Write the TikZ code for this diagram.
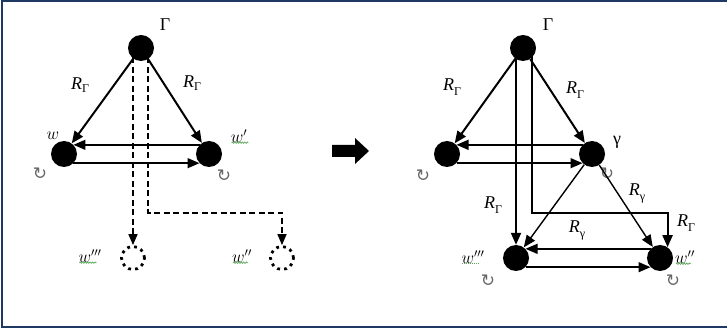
\documentclass[tikz,border=0pt]{standalone}
\usepackage{fontspec}
\setmainfont{Liberation Serif}
\newfontfamily\symfont{DejaVu Sans}
\usetikzlibrary{arrows.meta,calc,decorations.pathmorphing}
\definecolor{frameblue}{RGB}{31,56,100}
\definecolor{spellgreen}{RGB}{90,170,90}
\newcommand\RelG{\textit{R}\raisebox{-0.3ex}{\fontsize{12}{14}\selectfont Γ}}
\newcommand\RelGlow{\textit{R}\raisebox{-0.55ex}{\fontsize{12}{14}\selectfont Γ}}
\newcommand\Relg{\textit{R}\raisebox{-0.6ex}{\fontsize{12}{14}\selectfont γ}}
\tikzset{
  world/.style={circle,fill=black,minimum size=26pt,inner sep=0pt},
  ghost/.style={circle,draw=black,line width=2.8pt,dash pattern=on 2.8pt off 4.2pt,
                minimum size=23pt,inner sep=0pt},
  rel/.style={line width=2pt,-{Triangle[length=12pt,width=10pt]}},
  acc/.style={line width=1.4pt,-{Triangle[length=12pt,width=10pt]}},
  dashrel/.style={line width=1.6pt,dash pattern=on 6pt off 3.5pt,
                  -{Triangle[length=11pt,width=9pt]}},
  lbl/.style={font=\fontsize{18}{20}\selectfont,inner sep=1pt},
  loopmark/.style={font=\symfont\fontsize{17}{19}\selectfont,text=black!60,inner sep=0pt},
  squiggle/.style={spellgreen,line width=0.7pt,decorate,
                   decoration={snake,amplitude=0.7pt,segment length=2.5pt}},
}
\begin{document}
\begin{tikzpicture}[x=1pt,y=-1pt]
\useasboundingbox (0,0) rectangle (727,328);
% frame
\draw[frameblue,line width=2pt] (735,1.5) -- (1.5,1.5) -- (1.5,326.5) -- (735,326.5);

% ---------- left model ----------
\node[world] (G1) at (141,48) {};
\node[world] (W1) at (64,154) {};
\node[world] (W1p) at (209,154) {};
\node[ghost] (W3) at (133,258) {};
\node[ghost] (W2) at (282,258) {};

\node[lbl] (lG1) at (165,25) {Γ};
\node[lbl] (lW1) at (53,136) {$w$};
\node[lbl] (lW1p) at (239,136) {$w'$};
\node[lbl] (lW3) at (90,256) {$w'''$};
\node[lbl] (lW2) at (242,256) {$w''$};
\node[lbl] (r1) at (80,85) {\RelG};
\node[lbl] (r2) at (192,83) {\RelG};
\node[loopmark] (o1) at (40,174) {↻};
\node[loopmark] (o2) at (224,176) {↻};

\draw[rel] (G1) -- (W1);
\draw[rel] (G1) -- (W1p);
\draw[acc] (W1p.136) -- (W1.44);
\draw[acc] (W1.-44) -- (W1p.-136);
\draw[dashrel] (W3 |- G1) -- (W3.north);
\draw[dashrel] ($(G1.center)+(7,0)$) -- ($(G1.center)+(7,165)$) -| (W2.north);

\draw[squiggle] ($(lW1p.south west)+(2,-1)$) -- ($(lW1p.south east)+(0,-1)$);
\draw[squiggle] ($(lW3.south west)+(2,-1)$) -- ($(lW3.south east)+(-6,-1)$);
\draw[squiggle] ($(lW2.south west)+(2,-1)$) -- ($(lW2.south east)+(-5,-1)$);

% ---------- transition ----------
\fill (332,145) -- (355,145) -- (355,138) -- (369,151) -- (355,164) -- (355,157) -- (332,157) -- cycle;

% ---------- right model ----------
\node[world] (G2) at (523,48) {};
\node[world] (V1) at (447,154) {};
\node[world] (Vg) at (592,154) {};
\node[world] (V3) at (516,258) {};
\node[world] (V2) at (660,258) {};

\node[lbl] (lG2) at (548,25) {Γ};
\node[lbl] (lVg) at (617,142) {γ};
\node[lbl] (lV3) at (473,257) {$w'''$};
\node[lbl] (lV2) at (685,257) {$w''$};
\node[lbl] (s1) at (452,87) {\RelGlow};
\node[lbl] (s2) at (575,90) {\RelGlow};
\node[lbl] (s3) at (493,205) {\RelGlow};
\node[lbl] (s4) at (686,223) {\RelGlow};
\node[lbl] (s5) at (637,193) {\Relg};
\node[lbl] (s6) at (577,230) {\Relg};
\node[loopmark] (p1) at (423,176) {↻};
\node[loopmark] (p2) at (607,174) {↻};
\node[loopmark] (p3) at (488,281) {↻};
\node[loopmark] (p4) at (673,281) {↻};

\draw[rel] (G2) -- (V1);
\draw[rel] (G2) -- (Vg);
\draw[rel] (V3 |- G2) -- (V3.north);
\draw[rel] ($(G2.center)+(9,0)$) -- ($(G2.center)+(9,165)$) -| (V2.55);
\draw[acc] (Vg) -- (V3);
\draw[acc] (Vg) -- (V2);
\draw[acc] (Vg.136) -- (V1.44);
\draw[acc] (V1.-44) -- (Vg.-136);
\draw[acc] (V2.136) -- (V3.44);
\draw[acc] (V3.-44) -- (V2.-136);

\draw[spellgreen,line width=0.9pt,dash pattern=on 1pt off 1pt]
  ($(lV3.south west)+(2,-1)$) -- ($(lV3.south east)+(-6,-1)$);
\draw[squiggle] ($(lV2.south west)+(2,-1)$) -- ($(lV2.south east)+(-5,-1)$);
\end{tikzpicture}
\end{document}
